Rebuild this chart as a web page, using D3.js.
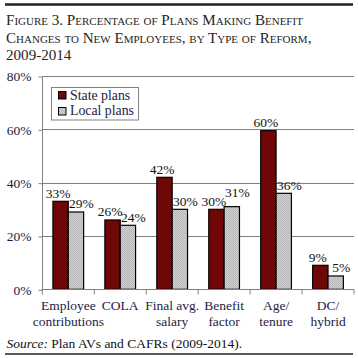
<!DOCTYPE html>
<html><head><meta charset="utf-8">
<script src="https://cdn.jsdelivr.net/npm/d3@7"></script>
<style>
html,body{margin:0;padding:0;background:#fff;}
svg{display:block;}
</style></head>
<body>
<svg id="chart" width="358" height="358"></svg>
<script>
const titleLines = ["Figure 3. Percentage of Plans Making Benefit", "Changes to New Employees, by Type of Reform,", "2009-2014"];
const categories = [["Employee","contributions"],["COLA"],["Final avg.","salary"],["Benefit","factor"],["Age/","tenure"],["DC/","hybrid"]];
const seriesNames = ["State plans","Local plans"];
const stateValues = [33, 26, 42, 30, 59.5, 9];
const localValues = [29, 24, 30, 31, 36, 5];
const yTicks = [0, 20, 40, 60, 80];

const svg = d3.select("#chart");
const font = "Liberation Serif";
const navy = "#1c1c44";

// patterns
const defs = svg.append("defs");
function pat(id, a, b){
  const p = defs.append("pattern").attr("id", id).attr("width", 2).attr("height", 2).attr("patternUnits","userSpaceOnUse");
  p.append("rect").attr("width",2).attr("height",2).attr("fill",a);
  p.append("rect").attr("width",1).attr("height",1).attr("fill",b);
  p.append("rect").attr("x",1).attr("y",1).attr("width",1).attr("height",1).attr("fill",b);
}
pat("pState", "#960000", "#680000");
pat("pLocal", "#d4d4d4", "#b4b4b4");
const fills = ["url(#pState)", "url(#pLocal)"];

// rules
svg.append("line").attr("x1",5).attr("x2",353).attr("y1",4.5).attr("y2",4.5).attr("stroke","#222").attr("stroke-width",2.5);
svg.append("line").attr("x1",5).attr("x2",353).attr("y1",354).attr("y2",354).attr("stroke","#222").attr("stroke-width",1.5);

// title
svg.append("g").selectAll("text").data(titleLines).join("text")
  .attr("x", 6).attr("y", (d,i)=>25 + i*17.5)
  .attr("font-family", font).attr("font-size", 15.1)
  .style("font-variant", "small-caps")
  .attr("fill", "#262626")
  .text(d=>d);

const margin = {left: 42.3, right: 354, top: 76, bottom: 289.3};
const x0 = d3.scaleBand().domain(d3.range(categories.length)).range([margin.left, margin.right]).paddingInner(0).paddingOuter(0);
const barW = 15.35;
const y = d3.scaleLinear().domain([0, 80]).range([margin.bottom, margin.top]);

// gridlines
svg.append("g").selectAll("line").data(yTicks.filter(d=>d>0)).join("line")
  .attr("x1", margin.left).attr("x2", margin.right)
  .attr("y1", d=>Math.round(y(d))+0.5).attr("y2", d=>Math.round(y(d))+0.5)
  .attr("stroke", "#808080").attr("stroke-width", 1);

// y axis
const yAxis = d3.axisLeft(y).tickValues(yTicks).tickSize(4).tickFormat(d=>d+"%");
const gy = svg.append("g").attr("transform", `translate(${Math.round(margin.left)+0.5},0.5)`).call(yAxis);
gy.attr("font-family", font);
gy.selectAll("path,line").attr("stroke","#808080");
gy.select(".domain").attr("d", `M0,${margin.top}V${margin.bottom}`);
gy.selectAll("text").attr("font-family", font).attr("font-size", 13.5).attr("fill", navy).attr("x", -11).attr("dy","0.33em");

// bars
const groups = svg.append("g").selectAll("g").data(categories.map((c,i)=>i)).join("g");
const vals = [stateValues, localValues];
groups.each(function(i){
  const g = d3.select(this);
  const cx = x0(i) + x0.bandwidth()/2;
  [0,1].forEach(s=>{
    const v = vals[s][i];
    const bx = cx - barW + s*barW;
    g.append("rect").attr("x", bx).attr("y", y(v)).attr("width", barW).attr("height", y(0)-y(v))
      .attr("fill", fills[s]).attr("stroke", "#000").attr("stroke-width", 1.2);
  });
});

// labels (raise a label if it would sit too close to the previous one)
const labelDx = [-2.5, 5.5];
let prev = null;
categories.forEach((c,i)=>{
  const cx = x0(i) + x0.bandwidth()/2;
  [0,1].forEach(s=>{
    const v = vals[s][i];
    const lx = cx - barW/2 + s*barW + labelDx[s];
    let ly = y(v) - 3.5;
    if (prev && Math.abs(prev.x - lx) < 26 && Math.abs(prev.y - ly) < 6 && s === 1 && v > vals[0][i]) ly = prev.y - 9;
    svg.append("text").attr("x", lx).attr("y", ly).attr("text-anchor","middle")
      .attr("font-family", font).attr("font-size", 13.5).attr("fill", "#111")
      .text(Math.round(v) + "%");
    prev = {x: lx, y: ly};
  });
});

// x axis
const gx = svg.append("g").attr("transform", `translate(0,${Math.round(margin.bottom)+0.5})`);
gx.append("line").attr("x1", margin.left).attr("x2", margin.right).attr("stroke","#808080");
gx.selectAll("line.tk").data(d3.range(categories.length+1)).join("line").attr("class","tk")
  .attr("x1", d=> d<categories.length ? x0(d) : margin.right).attr("x2", d=> d<categories.length ? x0(d) : margin.right)
  .attr("y1",0).attr("y2",5).attr("stroke","#808080");
categories.forEach((c,i)=>{
  const cx = x0(i) + x0.bandwidth()/2;
  c.forEach((ln,j)=>{
    svg.append("text").attr("x", cx).attr("y", 310 + j*15.5).attr("text-anchor","middle")
      .attr("font-family", font).attr("font-size", 13.5).attr("fill", navy).text(ln);
  });
});

// legend
const lg = svg.append("g");
lg.append("rect").attr("x", 51.5).attr("y", 87.5).attr("width", 87).attr("height", 32.5).attr("fill","#fff").attr("stroke","#808080");
seriesNames.forEach((n,i)=>{
  lg.append("rect").attr("x", 58.5).attr("y", 91.5 + i*16).attr("width", 7.5).attr("height", 7.5).attr("fill", fills[i]).attr("stroke","#000").attr("stroke-width",1);
  lg.append("text").attr("x", 70).attr("y", 99.5 + i*15.5).attr("font-family", font).attr("font-size", 13.8).attr("fill", navy).text(n);
});

// source
const src = svg.append("text").attr("x", 6.5).attr("y", 347.5).attr("font-family", font).attr("font-size", 13.5).attr("fill", "#111");
src.append("tspan").attr("font-style","italic").text("Source:");
src.append("tspan").text(" Plan AVs and CAFRs (2009-2014).");
</script>
</body></html>
